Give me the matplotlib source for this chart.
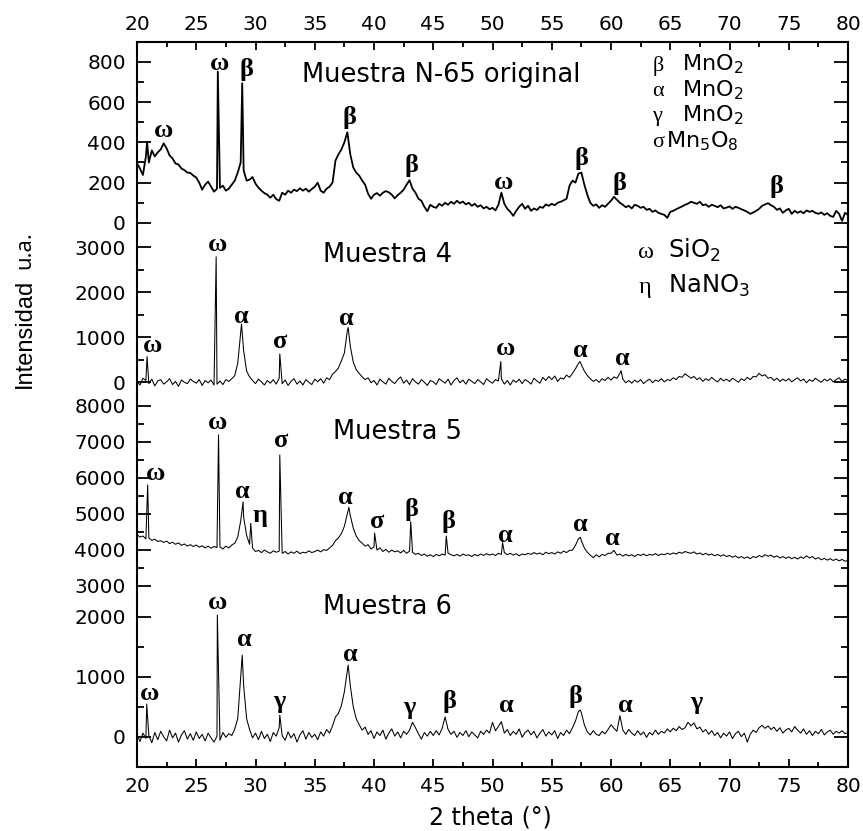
import matplotlib
matplotlib.use("Agg")
import matplotlib.pyplot as plt
import numpy as np
from matplotlib.ticker import MultipleLocator

# 2 theta grid (0.25 deg) shared by the four patterns
theta = np.arange(20, 80.001, 0.25)

# ---- Muestra N-65 original ----
n65_y = [296, 270, 238, 330, 300, 360, 330, 350, 365, 395, 370, 335, 320, 295, 290, 270, 262, 250, 248, 235,
         225, 200, 165, 190, 205, 180, 155, 170, 174, 185, 160, 170, 190, 210, 250, 300, 260, 210, 215, 228,
         195, 175, 160, 148, 140, 125, 140, 118, 110, 150, 140, 160, 150, 165, 158, 172, 160, 170, 155, 168,
         180, 200, 160, 150, 170, 180, 200, 310, 340, 365, 400, 450, 340, 275, 250, 235, 210, 190, 145, 120,
         140, 148, 135, 150, 158, 152, 140, 122, 138, 150, 165, 190, 212, 170, 150, 120, 110, 80, 58, 90,
         80, 75, 95, 85, 100, 90, 105, 95, 110, 98, 106, 92, 100, 85, 95, 80, 88, 72, 80, 68,
         75, 62, 90, 150, 95, 70, 55, 35, 60, 80, 95, 70, 85, 60, 72, 64, 80, 75, 92, 85,
         95, 88, 100, 105, 112, 120, 185, 210, 200, 245, 250, 190, 140, 100, 85, 92, 75, 88, 80, 95,
         110, 130, 115, 100, 90, 78, 85, 72, 90, 85, 75, 80, 65, 70, 55, 62, 50, 45, 40, 25,
         55, 60, 68, 75, 82, 90, 96, 105, 100, 95, 105, 88, 92, 80, 90, 85, 78, 88, 72, 76,
         82, 70, 80, 75, 68, 62, 55, 45, 52, 60, 70, 85, 92, 98, 88, 80, 65, 72, 50, 62,
         70, 45, 60, 50, 58, 48, 62, 55, 60, 50, 45, 52, 40, 48, 35, 30, 60, 45, 10, 50,
         40]
n65_peak_x = [20.85, 26.82, 28.88]
n65_peak_y = [403, 751, 693]

# ---- Muestra 4 ----
m4_y = [20, -60, 90, 40, -30, 70, -80, 30, 60, -40, 10, 80, -50, 20, -90, 50, 0, -30, 70, 20,
        -20, 60, -70, 40, -10, 50, -60, -40, 30, -50, 60, 20, 80, 150, 420, 1100, 700, 250, 120, 40,
        -30, 70, 10, -60, 40, -20, 60, -40, 90, -30, 50, -70, 20, 80, -40, 30, -60, 60, 0, -50,
        70, 10, 80, -20, 100, 60, 180, 240, 320, 480, 650, 1150, 800, 450, 280, 200, 120, 60, 100, -10,
        40, -60, 70, 10, -40, 90, 20, -30, 60, 120, -20, 50, -50, 80, 10, -40, 60, 0, -70, 40,
        10, -50, 80, 30, -20, 70, -60, 40, 100, -10, 50, -40, 70, 20, -30, 60, 10, -50, 80, 20,
        -20, 60, 30, 80, -40, 40, -60, 50, 0, 70, -30, 60, 20, -40, 90, 30, -20, 110, 40, 130,
        60, 140, 20, 100, 70, 160, 110, 200, 300, 420, 390, 250, 150, 80, 20, 60, 0, 80, 40, 110,
        50, 120, 90, 200, 70, -10, 40, -20, 50, 0, 60, -30, 30, 70, -10, 50, 20, 80, 10, 60,
        40, 100, 60, 130, 110, 190, 140, 90, 130, 60, 100, 20, 80, 40, 110, 50, 10, 90, 30, 70,
        20, 90, 50, 0, 80, 40, 110, 60, 130, 120, 200, 140, 170, 90, 110, 40, 90, 20, 70, 30,
        80, 10, 60, 100, 30, 70, -10, 60, 20, 90, 40, 0, 70, 30, 80, 10, 60, 100, 20, 70,
        40]
m4_peak_x = [20.85, 26.68, 28.82, 32.05, 37.82, 50.7, 57.38, 60.85]
m4_peak_y = [570, 2790, 1295, 630, 1220, 460, 460, 260]

# ---- Muestra 5 ----
m5_y = [4420, 4350, 4380, 4300, 4330, 4260, 4290, 4230, 4250, 4200, 4240, 4170, 4210, 4150, 4190, 4120, 4160, 4100, 4140, 4090,
        4130, 4070, 4110, 4050, 4100, 4040, 4090, 4060, 4080, 4020, 4100, 4050, 4130, 4180, 4350, 4800, 4900, 4400, 4150, 4050,
        3950, 3980, 3920, 3990, 3940, 3900, 3970, 3930, 3960, 3900, 3950, 3880, 3940, 3900, 3960, 3890, 3930, 3910, 3970, 3920,
        3950, 3990, 3940, 4000, 3980, 4050, 4120, 4250, 4330, 4450, 4650, 5000, 4950, 4600, 4380, 4250, 4180, 4100, 4140, 4020,
        4080, 3990, 4050, 3950, 4010, 3930, 3990, 3940, 3970, 3910, 3980, 3900, 3960, 3930, 3870, 3900, 3840, 3880, 3820, 3860,
        3810, 3870, 3830, 3880, 3850, 3900, 3860, 3830, 3870, 3820, 3880, 3840, 3860, 3810, 3870, 3830, 3880, 3840, 3890, 3850,
        3880, 3840, 3900, 3870, 3920, 3860, 3900, 3850, 3890, 3830, 3880, 3860, 3900, 3870, 3920, 3880, 3910, 3860, 3930, 3890,
        3920, 3880, 3940, 3900, 3960, 3920, 3980, 3990, 4120, 4300, 4250, 4050, 3930, 3850, 3780, 3860, 3800, 3870, 3840, 3900,
        3900, 3980, 3850, 3880, 3820, 3870, 3830, 3860, 3810, 3870, 3840, 3880, 3830, 3870, 3850, 3890, 3840, 3880, 3860, 3900,
        3870, 3910, 3880, 3930, 3900, 3950, 3920, 3900, 3940, 3880, 3910, 3860, 3900, 3850, 3880, 3830, 3870, 3820, 3860, 3810,
        3840, 3790, 3830, 3770, 3810, 3760, 3800, 3750, 3810, 3780, 3840, 3800, 3860, 3820, 3850, 3790, 3830, 3770, 3810, 3760,
        3800, 3750, 3790, 3740, 3800, 3760, 3830, 3770, 3810, 3740, 3780, 3720, 3760, 3710, 3750, 3700, 3740, 3690, 3730, 3680,
        3700]
m5_peak_x = [20.9, 26.88, 28.95, 29.6, 32.05, 37.88, 40.05, 43.1, 46.1, 50.85, 57.42]
m5_peak_y = [5800, 7190, 5330, 4730, 6630, 5180, 4460, 4780, 4380, 4200, 4345]

# ---- Muestra 6 ----
m6_y = [40, -80, 60, -30, 20, -100, 70, -50, 90, 0, -70, 110, -20, 60, -90, 30, 100, -40, 50, -60,
        80, -30, 40, -70, 60, -20, -90, 10, -60, 70, -10, 50, 20, 130, 300, 1000, 850, 300, 120, -20,
        60, -50, 90, -30, 40, -80, 70, 10, 150, 20, -60, 80, -20, 50, -90, 30, 100, -40, 70, -10,
        40, -50, 80, 10, 120, 60, 180, 330, 390, 520, 750, 1100, 850, 500, 300, 200, 110, 160, 40, 100,
        -30, 80, 20, 110, -40, 60, 130, 10, 80, -20, 90, 40, 110, 240, 150, 50, -40, 70, 10, 90,
        20, 100, 30, 140, 330, 120, 40, 90, -10, 70, 20, 100, 0, 80, 30, -20, 90, 40, 110, 60,
        240, 100, 170, 250, 60, 120, 20, 90, 40, 130, -10, 70, 110, 30, 90, -20, 60, 120, 10, 80,
        30, 100, -30, 70, 20, 110, 50, 150, 260, 420, 400, 200, 80, 30, 100, 40, 20, 90, 50, 120,
        200, 140, 90, 350, 110, 40, 120, 60, 20, 100, 30, 80, -10, 70, 30, 110, 40, 90, 60, 130,
        80, 140, 100, 170, 120, 150, 240, 180, 230, 130, 160, 80, 120, 40, 100, 20, 70, -20, 60, 10,
        80, -30, 50, 90, 0, 60, -90, 40, 110, 70, 150, 190, 140, 180, 120, 160, 90, 150, 60, 110,
        140, 80, 170, 110, 60, 130, 40, 100, 20, 90, 50, 120, 30, 80, 110, 40, 90, 60, 100, 50,
        70]
m6_peak_x = [20.82, 26.78, 28.88, 32.05, 37.82, 57.4]
m6_peak_y = [545, 2030, 1360, 360, 1195, 445]

# peak labels: (symbol, 2theta, intensity)
n65_labels = [("ω", 22.2, 457), ("ω", 27.0, 789), ("β", 29.2, 760), ("β", 37.9, 521),
              ("β", 43.2, 283), ("ω", 50.9, 203), ("β", 57.5, 318), ("β", 60.7, 194),
              ("β", 74.0, 179)]
m4_labels = [("ω", 21.3, 807), ("ω", 26.8, 3073), ("α", 28.8, 1473), ("σ", 32.1, 896),
             ("α", 37.7, 1407), ("ω", 51.1, 740), ("α", 57.4, 696), ("α", 61.0, 518)]
m5_labels = [("ω", 21.6, 6103), ("ω", 26.8, 7520), ("α", 28.9, 5630), ("η", 30.4, 4964),
             ("σ", 32.2, 7047), ("α", 37.6, 5464), ("σ", 40.3, 4770), ("β", 43.2, 5130),
             ("β", 46.3, 4770), ("α", 51.1, 4408), ("α", 57.4, 4714), ("α", 60.1, 4325)]
m6_labels = [("ω", 21.1, 728), ("ω", 26.8, 2245), ("α", 29.1, 1628), ("γ", 32.0, 595),
             ("α", 38.0, 1378), ("γ", 43.0, 495), ("β", 46.4, 595), ("α", 51.2, 528),
             ("β", 57.0, 662), ("α", 61.2, 528), ("γ", 67.2, 562)]

# phase keys: (symbol, text x, text, baseline intensity)
key1 = [("β", 66.0, "MnO$_2$", 756), ("α", 66.0, "MnO$_2$", 630),
        ("γ", 66.0, "MnO$_2$", 504), ("σ", 64.6, "Mn$_5$O$_8$", 375)]
key2 = [("ω", 64.8, "SiO$_2$", 2762), ("η", 64.8, "NaNO$_3$", 1984)]

W, H = 863, 831
greek_font = ['Liberation Serif', 'DejaVu Serif']


def rect(top, bot):
    return [137 / W, 1 - bot / H, (848 - 137) / W, (bot - top) / H]


def panel(fig, top, bot, ylim, major, minor, base_y, peak_x, peak_y, lw):
    ax = fig.add_axes(rect(top, bot))
    x = np.concatenate([theta, peak_x])
    y = np.concatenate([np.array(base_y, float), peak_y])
    order = np.argsort(x)
    ax.plot(x[order], y[order], color='black', lw=lw)
    ax.set_xlim(20, 80)
    ax.set_ylim(*ylim)
    ax.yaxis.set_major_locator(MultipleLocator(major))
    ax.yaxis.set_minor_locator(MultipleLocator(minor))
    ax.xaxis.set_major_locator(MultipleLocator(5))
    ax.xaxis.set_minor_locator(MultipleLocator(2.5))
    ax.tick_params(axis='y', which='both', direction='in', left=True, right=True,
                   labelsize=14.5, pad=8, width=1.3)
    ax.tick_params(axis='y', which='major', length=10)
    ax.tick_params(axis='y', which='minor', length=5)
    ax.tick_params(axis='x', which='both', direction='in', bottom=False, top=False,
                   labelbottom=False, labeltop=False, labelsize=14.5, width=1.3)
    ax.tick_params(axis='x', which='major', length=6)
    ax.tick_params(axis='x', which='minor', length=3.5)
    for s in ax.spines.values():
        s.set_linewidth(1.5)
    ax.patch.set_alpha(0)
    return ax


def label_peaks(ax, labels):
    for sym, xx, yy in labels:
        ax.text(xx, yy, sym, ha='center', va='center', fontsize=19,
                family=greek_font, fontweight='bold')


def phase_key(ax, rows, xg, size):
    for sym, xt, txt, yb in rows:
        ax.text(xg, yb, sym, ha='left', va='baseline', fontsize=size, family=greek_font)
        ax.text(xt, yb, txt, ha='left', va='baseline', fontsize=size)


fig = plt.figure(figsize=(W / 100, H / 100), dpi=100)

ax1 = panel(fig, 42, 232, (-45, 898), 200, 100, n65_y, n65_peak_x, n65_peak_y, 1.3)
ax2 = panel(fig, 232, 394, (-260, 3340), 1000, 500, m4_y, m4_peak_x, m4_peak_y, 0.75)
ax3 = panel(fig, 394, 600, (2603, 8325), 1000, 500, m5_y, m5_peak_x, m5_peak_y, 0.75)
ax4 = panel(fig, 600, 767, (-505, 2279), 1000, 500, m6_y, m6_peak_x, m6_peak_y, 0.75)

ax1.spines['bottom'].set_visible(False)
ax1.tick_params(axis='x', which='both', top=True, labeltop=True, pad=6)
for ax in (ax2, ax3):
    ax.spines['top'].set_visible(False)
    ax.spines['bottom'].set_visible(False)
ax4.spines['top'].set_visible(False)
ax4.tick_params(axis='x', which='both', bottom=True, labelbottom=True, pad=7)

label_peaks(ax1, n65_labels)
label_peaks(ax2, m4_labels)
label_peaks(ax3, m5_labels)
label_peaks(ax4, m6_labels)

# sample names
ax1.text(45.7, 734, "Muestra N-65 original", ha='center', va='center', fontsize=18.5)
ax2.text(41.1, 2829, "Muestra 4", ha='center', va='center', fontsize=18.5)
ax3.text(42.0, 7270, "Muestra 5", ha='center', va='center', fontsize=18.5)
ax4.text(41.1, 2162, "Muestra 6", ha='center', va='center', fontsize=18.5)

phase_key(ax1, key1, 63.5, 16)
phase_key(ax2, key2, 62.3, 17.5)

fig.text(490 / W, 1 - 818 / H, "2 theta (°)", ha='center', va='center', fontsize=17)
fig.text(25 / W, 1 - 333 / H, "Intensidad", rotation=90, ha='center', va='center',
         fontsize=17, family=['Liberation Sans Narrow', 'Liberation Sans', 'DejaVu Sans'])
fig.text(25 / W, 1 - 250 / H, "u.a.", rotation=90, ha='center', va='center',
         fontsize=16, family=['Open Sans', 'DejaVu Sans'])

fig.savefig("out.png", dpi=100)
